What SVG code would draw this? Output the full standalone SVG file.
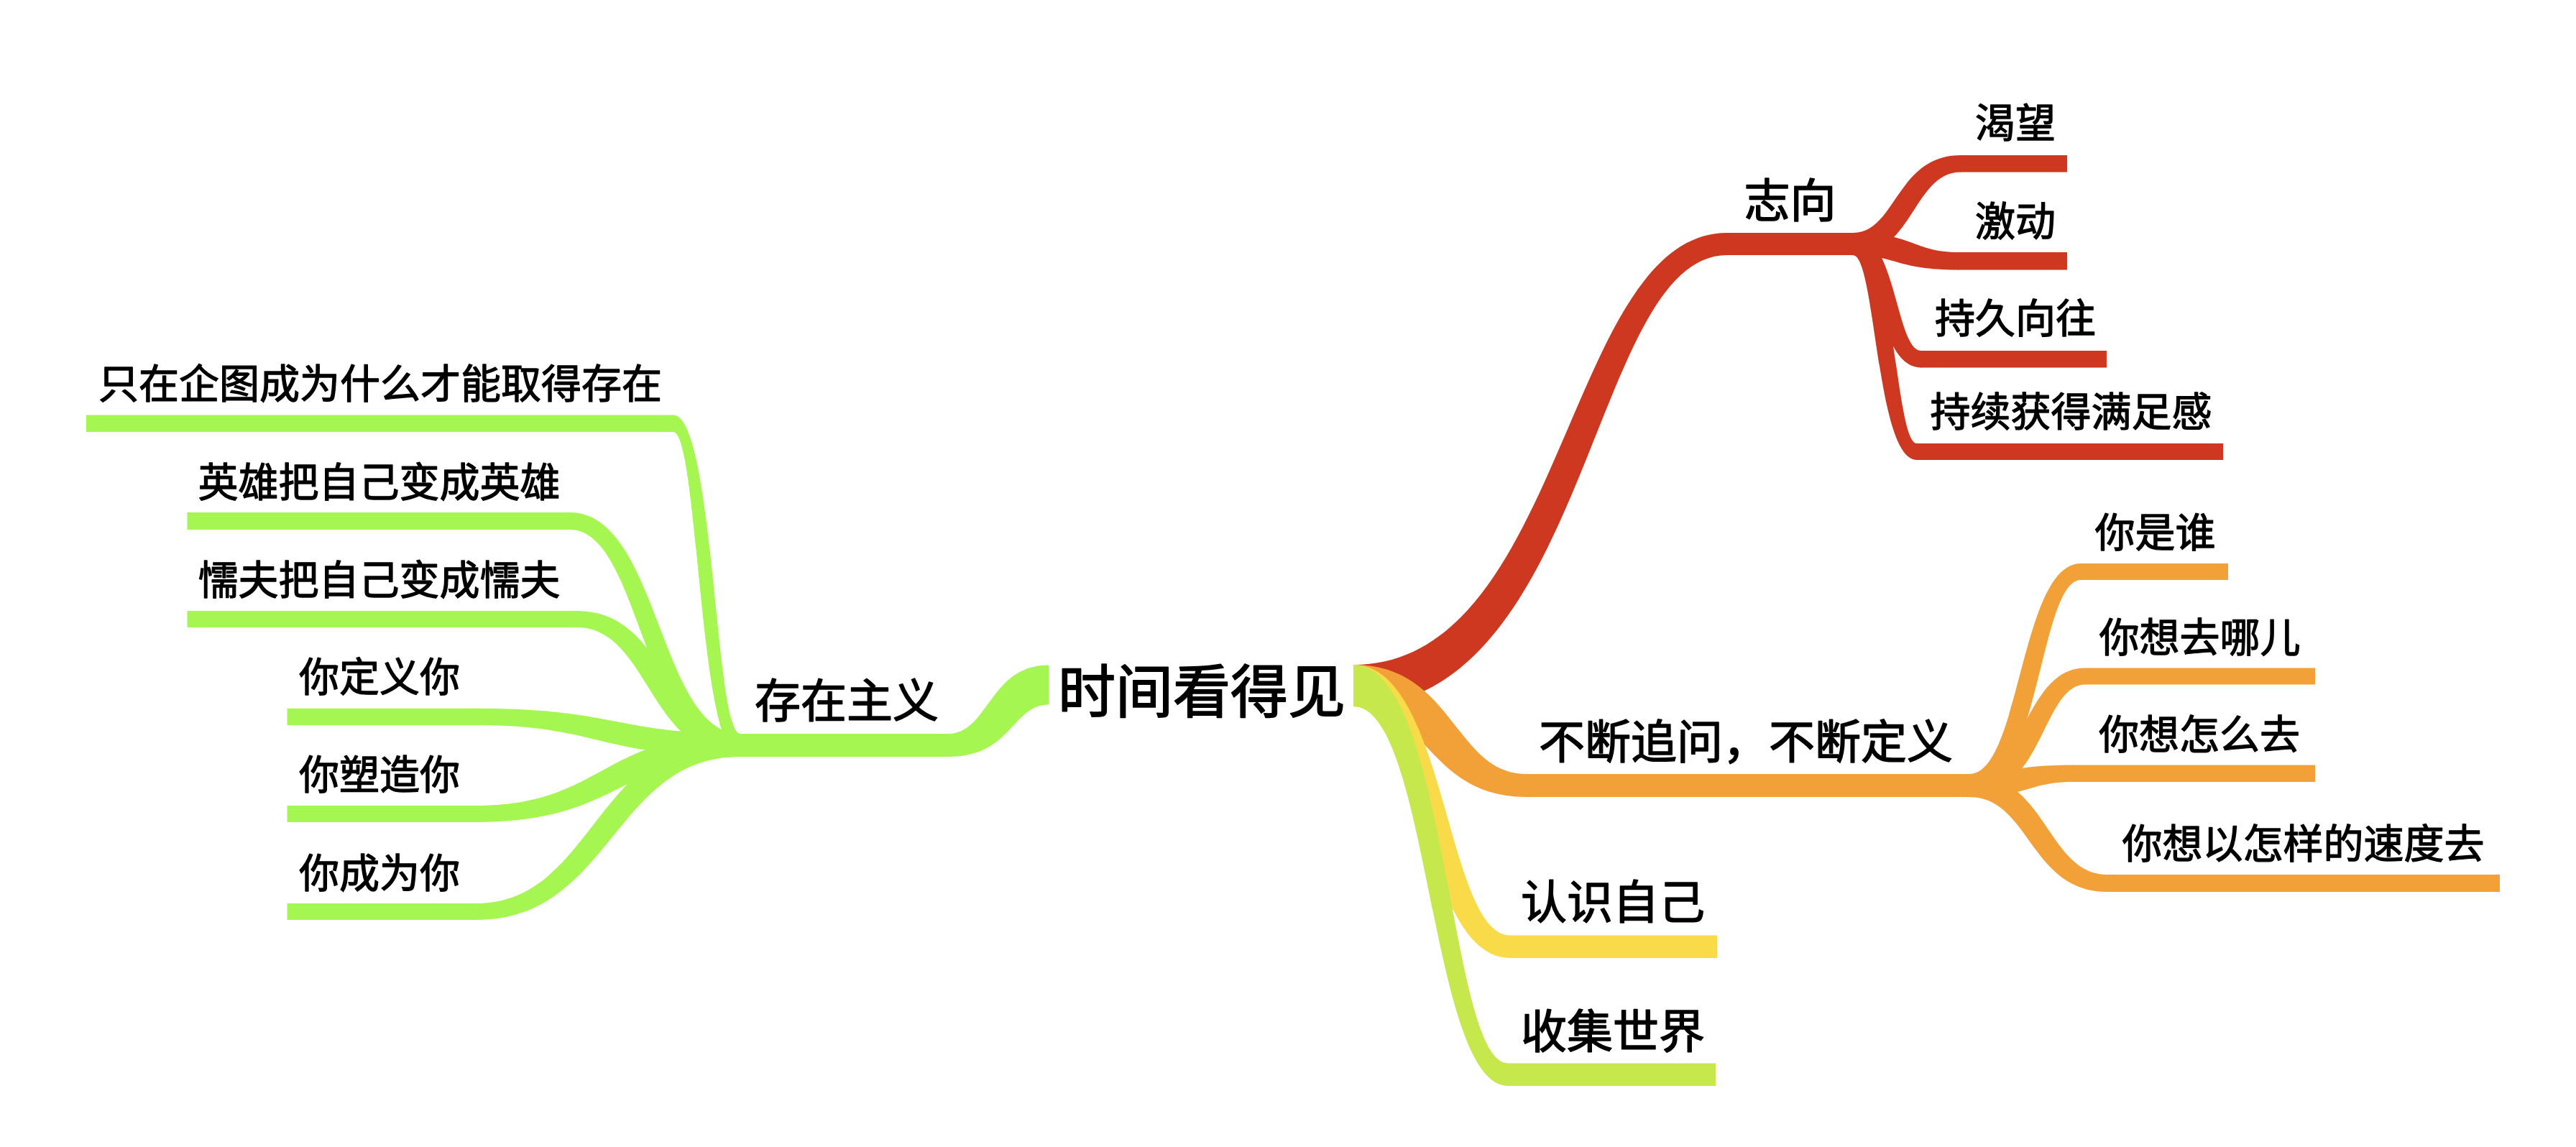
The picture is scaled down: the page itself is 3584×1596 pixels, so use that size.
<svg xmlns="http://www.w3.org/2000/svg" width="3584" height="1596" viewBox="0 0 3584 1596">
  <style>
    .red{fill:#CE3720}
    .org{fill:#F2A139}
    .yel{fill:#F9DB4A}
    .ygr{fill:#C6E84C}
    .grn{fill:#A5F650}
    text{font-family:"Noto Sans CJK SC","Noto Sans",sans-serif;fill:#000;stroke:#000;stroke-width:1.3px;stroke-linejoin:round;text-anchor:middle}
    .t0{font-size:80px;stroke-width:1.8px}
    .t1{font-size:64px;stroke-width:1.5px}
    .t2{font-size:56px}
  </style>
  <rect width="3584" height="1596" fill="#fff"/>

  <!-- tapered branch ribbons -->
  <g id="connectors">
    <!-- left side -->
    <path class="grn" d="M1459,925.5 C1376,925.5 1376,1021 1319,1021 V1053 C1408,1053 1408,980.5 1459,980.5 Z"/>
    <path class="grn" d="M1030,1021 C994,1021 994,577.5 936.5,577.5 V601 C972,601 972,1053 1030,1053 Z"/>
    <path class="grn" d="M1030,1021 C917,1021 917,713 793,713 V737 C893,737 893,1053 1030,1053 Z"/>
    <path class="grn" d="M1030,1021 C927,1021 927,850 802.6,850 V873 C903,873 903,1053 1030,1053 Z"/>
    <path class="grn" d="M1030,1021 C858,1021 858,985.7 662,985.7 V1009 C834,1009 834,1053 1030,1053 Z"/>
    <path class="grn" d="M1030,1021 C838,1021 838,1121 662,1121 V1144 C862,1144 862,1053 1030,1053 Z"/>
    <path class="grn" d="M1030,1021 C828,1021 828,1257 662,1257 V1280 C852,1280 852,1053 1030,1053 Z"/>
    <!-- right side, red -->
    <path class="red" d="M1883,925 C2178,925 2178,324 2403,324 V355 C2212,355 2212,983 1883,983 Z"/>
    <path class="red" d="M2578,324 C2638,324 2638,216 2728,216 V239.5 C2662,239.5 2662,355 2578,355 Z"/>
    <path class="red" d="M2578,324 C2662,324 2662,351 2725,351 V375.5 C2638,375.5 2638,355 2578,355 Z"/>
    <path class="red" d="M2578,324 C2638,324 2638,488 2673,488 V511.5 C2612,511.5 2612,355 2578,355 Z"/>
    <path class="red" d="M2578,324 C2636,324 2636,617 2667,617 V640 C2610,640 2610,355 2578,355 Z"/>
    <!-- right side, orange -->
    <path class="org" d="M1883,925 C2023,925 2023,1077 2124,1077 V1109 C1987,1109 1987,983 1883,983 Z"/>
    <path class="org" d="M2740,1077 C2811,1077 2811,784 2895,784 V807 C2837,807 2837,1109 2740,1109 Z"/>
    <path class="org" d="M2740,1077 C2818,1077 2818,929.5 2901,929.5 V952.5 C2842,952.5 2842,1109 2740,1109 Z"/>
    <path class="org" d="M2740,1077 C2798,1077 2798,1064.5 2884,1064.5 V1088 C2822,1088 2822,1109 2740,1109 Z"/>
    <path class="org" d="M2740,1077 C2848,1077 2848,1217 2932,1217 V1241 C2824,1241 2824,1109 2740,1109 Z"/>
    <!-- right side, yellow and yellow-green -->
    <path class="yel" d="M1883,925 C2012,925 2012,1301.5 2101,1301.5 V1333 C1978,1333 1978,983 1883,983 Z"/>
    <path class="ygr" d="M1883,925 C2015,925 2015,1479.5 2098,1479.5 V1511 C1989,1511 1989,983 1883,983 Z"/>
  </g>

  <!-- central topic -->
  <g id="root">
    <text class="t0" x="1672" y="991">时间看得见</text>
  </g>

  <!-- left main topic and subtopics -->
  <g id="n-cunzai">
    <rect class="grn" x="1029" y="1021" width="291" height="32"/>
    <text class="t1" x="1178" y="998">存在主义</text>
  </g>
  <g id="n-qitu">
    <rect class="grn" x="120" y="577.5" width="817.5" height="23.5"/>
    <text class="t2" x="529" y="554">只在企图成为什么才能取得存在</text>
  </g>
  <g id="n-yingxiong">
    <rect class="grn" x="260.5" y="713" width="533.5" height="24"/>
    <text class="t2" x="527.5" y="691">英雄把自己变成英雄</text>
  </g>
  <g id="n-nuofu">
    <rect class="grn" x="260.5" y="850" width="543" height="23"/>
    <text class="t2" x="527.5" y="827">懦夫把自己变成懦夫</text>
  </g>
  <g id="n-dingyi">
    <rect class="grn" x="399.5" y="985.7" width="263.5" height="23.3"/>
    <text class="t2" x="528" y="962">你定义你</text>
  </g>
  <g id="n-suzao">
    <rect class="grn" x="399.5" y="1121" width="263.5" height="23"/>
    <text class="t2" x="528" y="1098">你塑造你</text>
  </g>
  <g id="n-chengwei">
    <rect class="grn" x="399.5" y="1257" width="263.5" height="23"/>
    <text class="t2" x="528" y="1235">你成为你</text>
  </g>

  <!-- right: 志向 -->
  <g id="n-zhixiang">
    <rect class="red" x="2402" y="324" width="177" height="31"/>
    <text class="t1" x="2490.5" y="302">志向</text>
  </g>
  <g id="n-kewang">
    <rect class="red" x="2727" y="216" width="149" height="23.5"/>
    <text class="t2" x="2804" y="191">渴望</text>
  </g>
  <g id="n-jidong">
    <rect class="red" x="2724" y="351" width="152" height="24.5"/>
    <text class="t2" x="2804" y="328">激动</text>
  </g>
  <g id="n-chijiu">
    <rect class="red" x="2672" y="488" width="259" height="23.5"/>
    <text class="t2" x="2804" y="463">持久向往</text>
  </g>
  <g id="n-chixu">
    <rect class="red" x="2666" y="617" width="427" height="23"/>
    <text class="t2" x="2881.5" y="593">持续获得满足感</text>
  </g>

  <!-- right: 不断追问，不断定义 -->
  <g id="n-zhuiwen">
    <rect class="org" x="2123" y="1077" width="618" height="32"/>
    <text class="t1" x="2429" y="1055">不断追问，不断定义</text>
  </g>
  <g id="n-shishui">
    <rect class="org" x="2894" y="784" width="206" height="23"/>
    <text class="t2" x="2998.5" y="761">你是谁</text>
  </g>
  <g id="n-qunaer">
    <rect class="org" x="2900" y="929.5" width="321" height="23"/>
    <text class="t2" x="3060.5" y="907">你想去哪儿</text>
  </g>
  <g id="n-zenmequ">
    <rect class="org" x="2883" y="1064.5" width="338" height="23.5"/>
    <text class="t2" x="3060" y="1042">你想怎么去</text>
  </g>
  <g id="n-sudu">
    <rect class="org" x="2931" y="1217" width="547" height="24"/>
    <text class="t2" x="3204.5" y="1194">你想以怎样的速度去</text>
  </g>

  <!-- right: 认识自己, 收集世界 -->
  <g id="n-renshi">
    <rect class="yel" x="2100" y="1301.5" width="289" height="31.5"/>
    <text class="t1" x="2244" y="1278">认识自己</text>
  </g>
  <g id="n-shouji">
    <rect class="ygr" x="2097" y="1479.5" width="290" height="31.5"/>
    <text class="t1" x="2244" y="1458">收集世界</text>
  </g>
</svg>
